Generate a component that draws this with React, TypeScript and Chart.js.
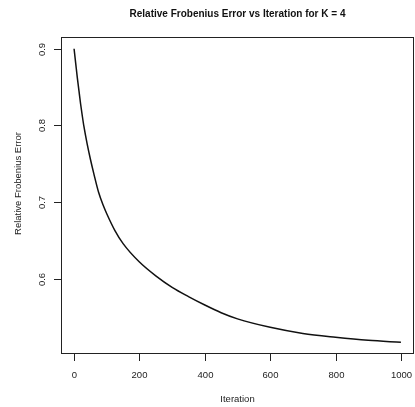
import React, { useEffect, useRef } from "react";
import { Chart, registerables } from "chart.js";

Chart.register(...registerables);

const iterations = [0, 5, 10, 15, 20, 25, 30, 40, 50, 60, 75, 90, 100, 125, 150, 200, 250, 300, 350, 400, 450, 500, 600, 700, 800, 900, 1000];
const errors = [0.9, 0.881, 0.862, 0.845, 0.828, 0.813, 0.799, 0.776, 0.756, 0.738, 0.713, 0.695, 0.685, 0.663, 0.646, 0.622, 0.604, 0.589, 0.577, 0.566, 0.556, 0.548, 0.537, 0.529, 0.524, 0.52, 0.5175];
const xTicks = [0, 200, 400, 600, 800, 1000];
const yTicks = [0.6, 0.7, 0.8, 0.9];
const titleText = "Relative Frobenius Error vs Iteration for K = 4";
const xLabel = "Iteration";
const yLabel = "Relative Frobenius Error";

const FONT = "'Liberation Sans', Arial, Helvetica, sans-serif";

const decoPlugin = {
  id: "deco",
  afterDraw(chart: any) {
    const { ctx, chartArea: a, scales } = chart;
    const xs = scales.x;
    const ys = scales.y;
    ctx.save();
    ctx.strokeStyle = "#222";
    ctx.lineWidth = 1;
    ctx.strokeRect(a.left + 0.5, a.top + 0.5, a.right - a.left - 1, a.bottom - a.top - 1);

    // x ticks
    ctx.fillStyle = "#222";
    ctx.font = `9.5px ${FONT}`;
    ctx.textAlign = "center";
    ctx.textBaseline = "middle";
    xTicks.forEach((v) => {
      const px = Math.round(xs.getPixelForValue(v)) + 0.5;
      ctx.beginPath();
      ctx.moveTo(px, a.bottom);
      ctx.lineTo(px, a.bottom + 7);
      ctx.stroke();
      ctx.fillText(String(v), px, 375);
    });

    // y ticks
    yTicks.forEach((v) => {
      const py = Math.round(ys.getPixelForValue(v)) + 0.5;
      ctx.beginPath();
      ctx.moveTo(a.left, py);
      ctx.lineTo(a.left - 7, py);
      ctx.stroke();
      ctx.save();
      ctx.translate(42, py);
      ctx.rotate(-Math.PI / 2);
      ctx.fillText(v.toFixed(1), 0, 0);
      ctx.restore();
    });

    // axis titles
    ctx.fillText(xLabel, (a.left + a.right) / 2, 399);
    ctx.save();
    ctx.translate(18.5, (a.top + a.bottom) / 2 - 12);
    ctx.rotate(-Math.PI / 2);
    ctx.fillText(yLabel, 0, 0);
    ctx.restore();

    // main title
    ctx.fillStyle = "#111";
    ctx.font = `bold 10px ${FONT}`;
    ctx.fillText(titleText, (a.left + a.right) / 2, 14);
    ctx.restore();
  },
};

export default function App() {
  const canvasRef = useRef<HTMLCanvasElement | null>(null);

  useEffect(() => {
    const canvas = canvasRef.current;
    if (!canvas) return;
    const points = iterations.map((it, i) => ({ x: it, y: errors[i] }));
    const yMin = Math.min(...errors);
    const yMax = Math.max(...errors);
    const yPad = (yMax - yMin) * 0.04;
    const xMin = Math.min(...iterations);
    const xMax = Math.max(...iterations);
    const xPad = (xMax - xMin) * 0.04;

    const chart = new Chart(canvas, {
      type: "line",
      data: {
        datasets: [
          {
            data: points,
            borderColor: "#111",
            borderWidth: 1.5,
            pointRadius: 0,
            fill: false,
            cubicInterpolationMode: "monotone",
          },
        ],
      },
      options: {
        animation: false,
        responsive: false,
        devicePixelRatio: 1,
        layout: { padding: { top: 37, right: 1, left: 0, bottom: 0 } },
        plugins: {
          legend: { display: false },
          title: { display: false },
          tooltip: { enabled: false },
        },
        scales: {
          x: {
            type: "linear",
            min: xMin - xPad,
            max: xMax + xPad,
            grid: { display: false },
            border: { display: false },
            ticks: { display: false },
            afterFit: (s: any) => {
              s.height = 53;
            },
          },
          y: {
            type: "linear",
            min: yMin - yPad,
            max: yMax + yPad,
            grid: { display: false },
            border: { display: false },
            ticks: { display: false },
            afterFit: (s: any) => {
              s.width = 61;
            },
          },
        },
      },
      plugins: [decoPlugin],
    });
    return () => chart.destroy();
  }, []);

  return (
    <div style={{ position: "fixed", left: 0, top: 0, width: 415, height: 407, background: "#fff" }}>
      <canvas ref={canvasRef} width={415} height={407} />
    </div>
  );
}
